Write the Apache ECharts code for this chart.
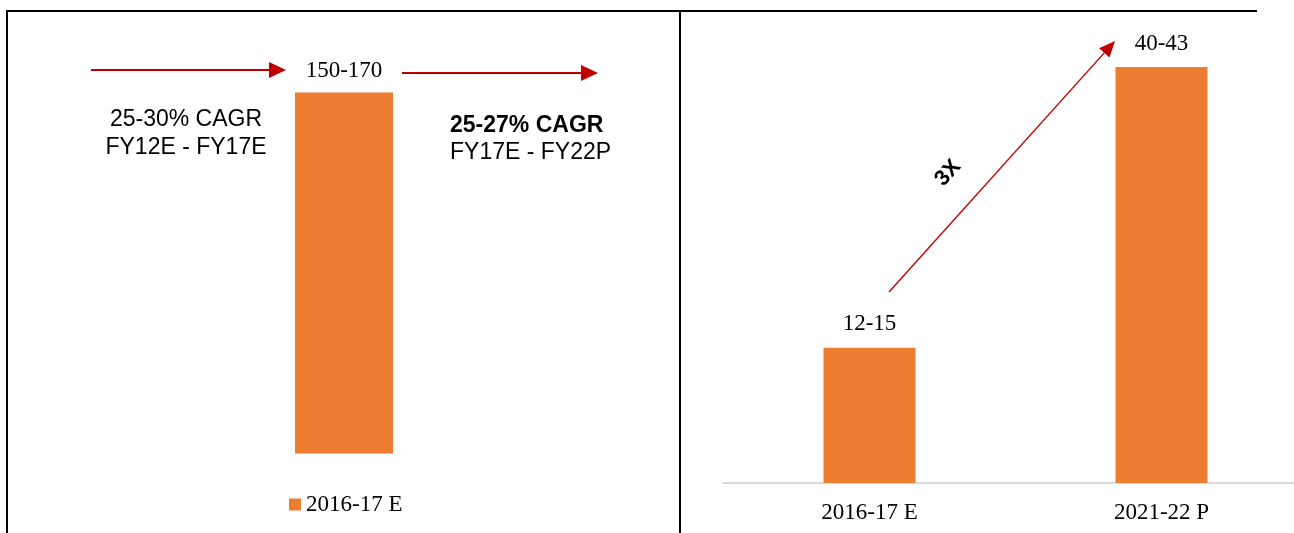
<!DOCTYPE html>
<html>
<head>
<meta charset="utf-8">
<script src="https://cdn.jsdelivr.net/npm/echarts@6/dist/echarts.min.js"></script>
<style>
html,body{margin:0;padding:0;background:#fff;}
#c{width:1294px;height:533px;}
</style>
</head>
<body>
<div id="c"></div>
<script>
// ---- data ----
var leftCategories = ['2016-17 E'];
var leftValues = [160];
var leftLabels = ['150-170'];
var rightCategories = ['2016-17 E', '2021-22 P'];
var rightValues = [13.5, 41.5];
var rightLabels = ['12-15', '40-43'];
var leftNoteLines = ['25-30% CAGR', 'FY12E - FY17E'];
var rightNoteLines = ['25-27% CAGR', 'FY17E - FY22P'];
var multipleText = '3X';

var ORANGE = '#ED7D31';
var RED = '#C00000';
var SERIF = '"Liberation Serif", "Times New Roman", serif';
var SANS = '"Liberation Sans", Arial, sans-serif';

var chart = echarts.init(document.getElementById('c'));

// diagonal arrow geometry
var ax0 = 889, ay0 = 292, tx = 1115, ty = 41;
var dx = tx - ax0, dy = ty - ay0, len = Math.sqrt(dx*dx + dy*dy);
var ux = dx/len, uy = dy/len, px = -uy, py = ux;
var hl = 16, hw = 7;
var bx = tx - hl*ux, by = ty - hl*uy;
var angle = Math.atan2(-dy, dx);

var option = {
  backgroundColor: '#fff',
  animation: false,
  legend: {
    data: [leftCategories[0]],
    left: 284,
    top: 488,
    icon: 'rect',
    itemWidth: 12,
    itemHeight: 12,
    itemGap: 10,
    textStyle: {fontFamily: SERIF, fontSize: 23, color: '#000'}
  },
  grid: [
    {left: 44, width: 600, top: 47.5, bottom: 79.5, outerBoundsMode: 'none'},
    {left: 723.5, width: 584, top: 32, height: 451, outerBoundsMode: 'none'}
  ],
  xAxis: [
    {type: 'category', gridIndex: 0, data: leftCategories, show: false},
    {type: 'category', gridIndex: 1, data: rightCategories,
     axisLine: {show: true, lineStyle: {color: '#d9d9d9', width: 2}},
     axisTick: {show: false},
     axisLabel: {fontFamily: SERIF, fontSize: 23, color: '#000', margin: 18}}
  ],
  yAxis: [
    {type: 'value', gridIndex: 0, min: 0, max: 180, show: false},
    {type: 'value', gridIndex: 1, min: 0, max: 45, show: false}
  ],
  series: [
    {
      name: leftCategories[0], type: 'bar', xAxisIndex: 0, yAxisIndex: 0,
      data: leftValues, barWidth: 98, itemStyle: {color: ORANGE},
      label: {show: true, position: 'top', distance: 10, fontFamily: SERIF, fontSize: 23, color: '#000',
        formatter: function(p){ return leftLabels[p.dataIndex]; }}
    },
    {
      name: 'Projection', type: 'bar', xAxisIndex: 1, yAxisIndex: 1,
      data: rightValues, barWidth: 92, itemStyle: {color: ORANGE},
      label: {show: true, position: 'top', distance: 12, fontFamily: SERIF, fontSize: 23, color: '#000',
        formatter: function(p){ return rightLabels[p.dataIndex]; }}
    }
  ],
  graphic: [
    // frame
    {type: 'line', shape: {x1: 6, y1: 11, x2: 1257, y2: 11}, style: {stroke: '#000', lineWidth: 2}},
    {type: 'line', shape: {x1: 7, y1: 10, x2: 7, y2: 533}, style: {stroke: '#000', lineWidth: 2}},
    {type: 'line', shape: {x1: 680, y1: 10, x2: 680, y2: 533}, style: {stroke: '#000', lineWidth: 2}},
    // left arrow
    {type: 'line', shape: {x1: 91, y1: 70, x2: 272, y2: 70}, style: {stroke: RED, lineWidth: 2}},
    {type: 'polygon', shape: {points: [[269,62],[286,70],[269,78]]}, style: {fill: RED}},
    // right arrow
    {type: 'line', shape: {x1: 402, y1: 73, x2: 584, y2: 73}, style: {stroke: RED, lineWidth: 2}},
    {type: 'polygon', shape: {points: [[581,65],[598,73],[581,81]]}, style: {fill: RED}},
    // diagonal arrow
    {type: 'line', shape: {x1: ax0, y1: ay0, x2: bx, y2: by}, style: {stroke: RED, lineWidth: 1.4}},
    {type: 'polygon', shape: {points: [[tx,ty],[bx+hw*px, by+hw*py],[bx-hw*px, by-hw*py]]}, style: {fill: RED}},
    // notes
    {type: 'text', x: 186, y: 134, style: {text: leftNoteLines.join('\n'), fontFamily: SANS, fontSize: 23,
      lineHeight: 28, fill: '#000', align: 'center', verticalAlign: 'middle'}},
    {type: 'text', x: 450, y: 139, style: {
      text: '{b|' + rightNoteLines[0] + '}\n{n|' + rightNoteLines[1] + '}',
      align: 'left', verticalAlign: 'middle',
      rich: {
        b: {fontFamily: SANS, fontSize: 23, fontWeight: 'bold', fill: '#000', lineHeight: 27},
        n: {fontFamily: SANS, fontSize: 23, fill: '#000', lineHeight: 27}
      }}},
    {type: 'text', x: 948, y: 173, rotation: angle, style: {text: multipleText, fontFamily: SANS, fontSize: 22,
      fontWeight: 'bold', fill: '#000', align: 'center', verticalAlign: 'middle'}}
  ]
};
chart.setOption(option);
</script>
</body>
</html>
